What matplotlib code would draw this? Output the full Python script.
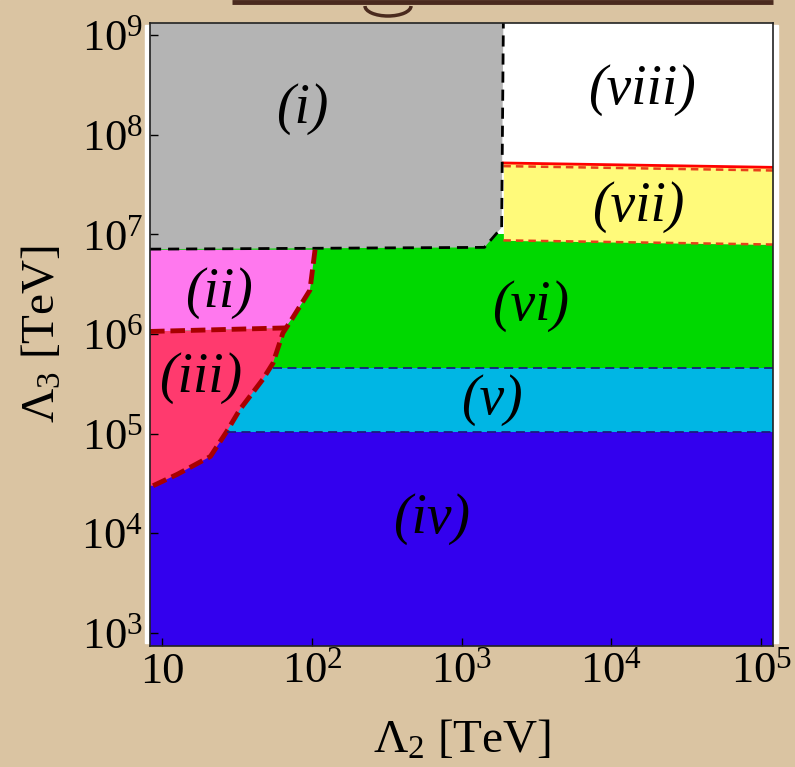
import numpy as np
import matplotlib
matplotlib.use("Agg")
from matplotlib import pyplot as plt
from matplotlib.patches import Rectangle, Arc

plt.rcParams['font.family'] = ['Liberation Serif', 'DejaVu Serif']
plt.rcParams['mathtext.fontset'] = 'custom'
plt.rcParams['mathtext.rm'] = 'Liberation Serif'
plt.rcParams['mathtext.it'] = 'Liberation Serif:italic'

# plot range (TeV)
lam2_lim = [8.3, 1.2e5]
lam3_lim = [7.4e2, 1.32e9]

# boundary of regions (ii)/(iii) against the rest
edge_lam2 = [8.7, 12.6, 21, 27, 33, 47, 55, 64, 75, 97, 105]
edge_lam3 = [3.0e4, 3.9e4, 5.9e4, 1.05e5, 1.74e5, 3.5e5, 5.1e5, 1.02e6, 1.48e6, 2.75e6, 7.0e6]

# (ii) / (iii) split
split_ii_iii = [1.06e6, 1.15e6]

# horizontal bands
band_iv_v = 1.05e5
band_v_vi = 4.6e5

# region (i) outline
gray_lam2 = [8.3, 1.42e3, 1.85e3, 1.9e3]
gray_lam3 = [7.1e6, 7.4e6, 1.17e7, 1.32e9]

# region (vii) strip
yel_lam2 = [1.9e3, 1.2e5]
yel_low = [8.7e6, 7.9e6]
yel_high = [5.2e7, 4.7e7]

labels = ['(i)', '(ii)', '(iii)', '(iv)', '(v)', '(vi)', '(vii)', '(viii)']
label_lam2 = [86, 24, 18, 630, 1.6e3, 2.9e3, 1.5e4, 1.6e4]
label_lam3 = [1.8e8, 2.6e6, 3.6e5, 1.4e4, 2.2e5, 1.9e6, 1.9e7, 2.8e8]

c_gray = '#b4b4b4'
c_pink = '#ff78ee'
c_red = '#ff3a6e'
c_blue = '#3300ee'
c_cyan = '#00b6e4'
c_green = '#00d800'
c_yellow = '#fffa7a'

fig = plt.figure(figsize=(7.95, 7.67), dpi=100)

# parchment background, white plot card, brown frame at the top
bg = fig.add_axes([0, 0, 1, 1], zorder=-5)
bg.set_xlim(0, 795)
bg.set_ylim(767, 0)
bg.axis('off')
bg.add_patch(Rectangle((0, 0), 795, 767, color='#dac4a2'))
bg.add_patch(Rectangle((145, 25), 633, 618, color='white'))
bg.plot([232, 773], [2, 2], color='#4a2a1e', lw=3.5, solid_capstyle='butt')
bg.add_patch(Arc((388, 6), 46, 20, theta1=0, theta2=180, color='#4a2a1e', lw=2.5))

ax = fig.add_axes([0.1887, 0.1578, 0.7836, 0.8122])
ax.set_xscale('log')
ax.set_yscale('log')
ax.set_xlim(lam2_lim)
ax.set_ylim(lam3_lim)

x0, x1 = lam2_lim
y0, y1 = lam3_lim

ax.fill_between(lam2_lim, y0, band_iv_v, color=c_blue, lw=0)
ax.fill_between(lam2_lim, band_iv_v, band_v_vi, color=c_cyan, lw=0)
ax.fill_between(lam2_lim, band_v_vi, 1.0e7, color=c_green, lw=0)
ax.fill_between(lam2_lim, 3e7, y1, color='white', lw=0)
ax.fill_between(yel_lam2, yel_low, yel_high, color=c_yellow, lw=0)

# crossing of the edge with the (ii)/(iii) split
lx = np.log10(edge_lam2)
ly = np.log10(edge_lam3)
split_mid = np.mean(split_ii_iii)
x_split = 10 ** np.interp(np.log10(split_mid), ly, lx)
below = np.array(edge_lam3) < split_mid

red_x = [x0] + list(np.array(edge_lam2)[below]) + [x_split, x0]
red_y = [edge_lam3[0]] + list(np.array(edge_lam3)[below]) + [split_ii_iii[1], split_ii_iii[0]]
ax.fill(red_x, red_y, color=c_red, lw=0)

pink_x = [x0, x_split] + list(np.array(edge_lam2)[~below]) + [x0]
pink_y = [split_ii_iii[0], split_ii_iii[1]] + list(np.array(edge_lam3)[~below]) + [edge_lam3[-1]]
ax.fill(pink_x, pink_y, color=c_pink, lw=0)

ax.fill(gray_lam2 + [x0], gray_lam3 + [y1], color=c_gray, lw=0)

# boundaries
ax.plot(yel_lam2, yel_low, color='#e8401a', lw=1.8, ls=(0, (3, 2)))
ax.plot(yel_lam2, np.array(yel_high) * 0.93, color='#e8401a', lw=1.8, ls=(0, (3, 2)))
ax.plot(yel_lam2, yel_high, color='#ff0000', lw=2)
ax.plot(gray_lam2, gray_lam3, color='black', lw=2, ls=(0, (4, 2.5)))
ax.plot(edge_lam2, edge_lam3, color='#a80000', lw=3.5, ls=(0, (3, 1.2)))
ax.plot([x0, x_split], split_ii_iii, color='#a80000', lw=3.5, ls=(0, (3, 1.2)))
ax.plot([27, x1], [band_iv_v, band_iv_v], color='#1c1c80', lw=1.3, ls=(0, (5, 3)))
ax.plot([55, x1], [band_v_vi, band_v_vi], color='#1c1c80', lw=1.3, ls=(0, (5, 3)))

for t, xl, yl in zip(labels, label_lam2, label_lam3):
    ax.text(xl, yl, t, fontsize=40, style='italic', ha='center', va='center')

ax.set_xticks([10, 1e2, 1e3, 1e4, 1e5])
ax.set_xticklabels(['10', '$10^{2}$', '$10^{3}$', '$10^{4}$', '$10^{5}$'])
ax.set_yticks([1e3, 1e4, 1e5, 1e6, 1e7, 1e8, 1e9])
ax.set_yticklabels(['$10^{%d}$' % k for k in range(3, 10)])
ax.minorticks_off()
ax.tick_params(direction='in', length=6, width=1, labelsize=32, top=False, right=False)
ax.tick_params(axis='x', pad=4)
ax.tick_params(axis='y', pad=5)
for s in ax.spines.values():
    s.set_linewidth(1.2)
    s.set_color('#222222')

ax.set_xlabel(r'$\Lambda_2$ [TeV]', fontsize=34, labelpad=20)
ax.set_ylabel(r'$\Lambda_3$ [TeV]', fontsize=34, labelpad=12)

fig.savefig('out.png', dpi=100)
